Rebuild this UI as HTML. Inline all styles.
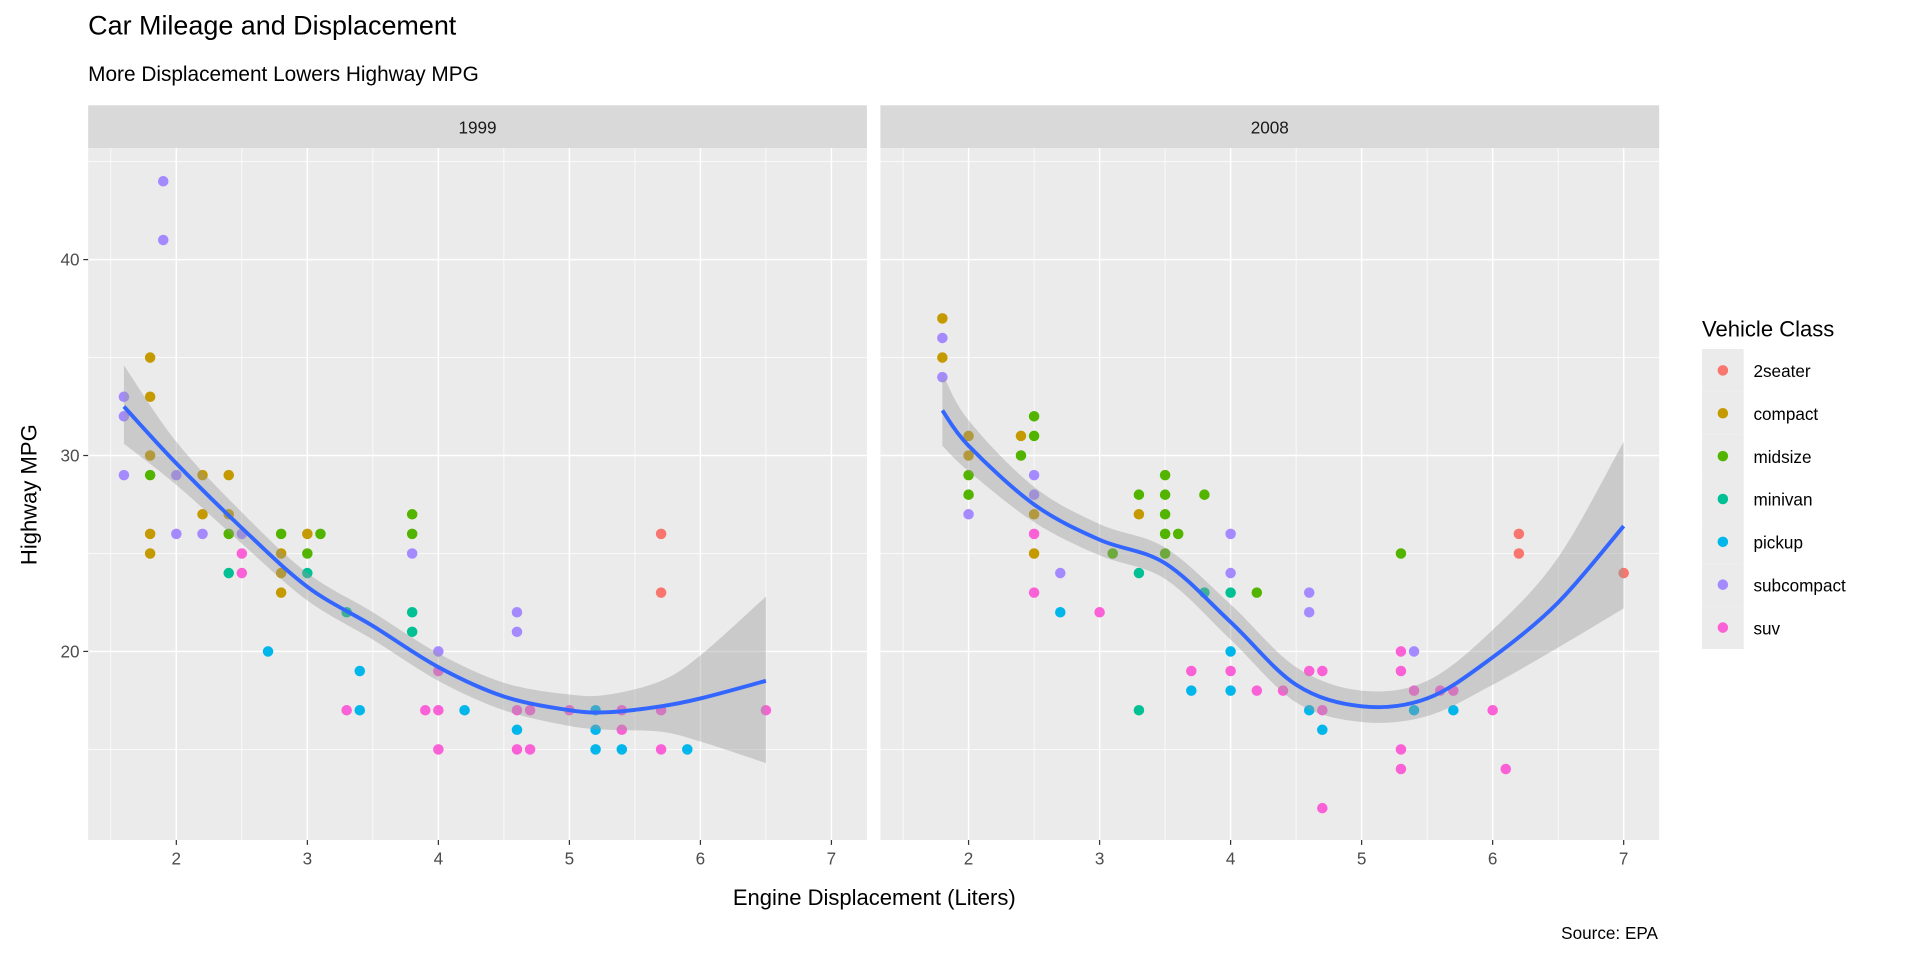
<!DOCTYPE html>
<html><head><meta charset="utf-8"><style>
html,body{margin:0;padding:0;background:#fff;}
svg{display:block;font-family:"Liberation Sans",Arial,sans-serif;}
</style></head><body>
<svg id="s" width="1920" height="960" viewBox="0 0 1568 784" xmlns="http://www.w3.org/2000/svg">
<rect width="1568" height="784" fill="#fff"/>
<text x="72" y="28" font-size="22" fill="#000">Car Mileage and Displacement</text>
<text x="72" y="66" font-size="17" fill="#000">More Displacement Lowers Highway MPG</text>
<g id="g"></g>
<text x="714" y="739" font-size="18" text-anchor="middle" fill="#000">Engine Displacement (Liters)</text>
<text transform="translate(30,404) rotate(-90)" font-size="18" text-anchor="middle" fill="#000">Highway MPG</text>
<text x="1354" y="767" font-size="14" text-anchor="end" fill="#000">Source: EPA</text>
<text x="1390" y="275" font-size="18" fill="#000">Vehicle Class</text>
<g id="leg"></g>
</svg>
<script>
const NS="http://www.w3.org/2000/svg";
const g=document.getElementById('g'),leg=document.getElementById('leg');
function el(t,a,p){const e=document.createElementNS(NS,t);for(const k in a)e.setAttribute(k,a[k]);(p||g).appendChild(e);return e;}
const C={t:'#F8766D',c:'#C49A00',m:'#53B400',v:'#00C094',p:'#00B6EB',s:'#A58AFF',u:'#FB61D7'};
const Y=h=>532-(h-20)*16;
const panels=[{x0:72,off:0,lab:'1999'},{x0:719,off:647,lab:'2008'}];
const d99=[[1.6,33,'s'],[1.6,32,'s'],[1.6,29,'s'],[1.8,35,'c'],[1.8,33,'c'],[1.8,30,'c'],[1.8,29,'m'],[1.8,26,'c'],[1.8,25,'c'],[1.9,44,'s'],[1.9,41,'s'],[2,29,'s'],[2,26,'s'],[2.2,29,'c'],[2.2,27,'c'],[2.2,26,'s'],[2.4,29,'c'],[2.4,27,'c'],[2.4,26,'m'],[2.4,24,'v'],[2.5,26,'s'],[2.5,25,'u'],[2.5,24,'u'],[2.7,20,'p'],[2.8,26,'m'],[2.8,25,'c'],[2.8,24,'c'],[2.8,23,'c'],[3,26,'c'],[3,25,'m'],[3,24,'v'],[3.1,26,'m'],[3.3,22,'v'],[3.3,17,'u'],[3.4,19,'p'],[3.4,17,'p'],[3.8,27,'m'],[3.8,26,'m'],[3.8,25,'s'],[3.8,22,'v'],[3.8,21,'v'],[3.9,17,'u'],[4,20,'s'],[4,19,'u'],[4,17,'u'],[4,15,'u'],[4.2,17,'p'],[4.6,22,'s'],[4.6,21,'s'],[4.6,17,'u'],[4.6,16,'p'],[4.6,15,'u'],[4.7,17,'u'],[4.7,15,'u'],[5,17,'u'],[5.2,17,'p'],[5.2,16,'p'],[5.2,15,'p'],[5.4,17,'u'],[5.4,16,'u'],[5.4,15,'p'],[5.7,26,'t'],[5.7,23,'t'],[5.7,17,'u'],[5.7,15,'u'],[5.9,15,'p'],[6.5,17,'u']];
const d08=[[1.8,37,'c'],[1.8,35,'c'],[1.8,36,'s'],[1.8,34,'s'],[2,31,'c'],[2,30,'c'],[2,29,'m'],[2,28,'m'],[2,27,'s'],[2.4,31,'c'],[2.4,30,'m'],[2.5,32,'m'],[2.5,31,'m'],[2.5,29,'s'],[2.5,28,'s'],[2.5,27,'c'],[2.5,26,'u'],[2.5,25,'c'],[2.5,23,'u'],[2.7,24,'s'],[2.7,22,'p'],[3,22,'u'],[3.1,25,'m'],[3.3,28,'m'],[3.3,27,'c'],[3.3,24,'v'],[3.3,17,'v'],[3.5,29,'m'],[3.5,28,'m'],[3.5,27,'m'],[3.5,26,'m'],[3.5,25,'m'],[3.6,26,'m'],[3.7,19,'u'],[3.7,18,'p'],[3.8,28,'m'],[3.8,23,'v'],[4,26,'s'],[4,24,'s'],[4,23,'v'],[4,20,'p'],[4,19,'u'],[4,18,'p'],[4.2,23,'m'],[4.2,18,'u'],[4.4,18,'u'],[4.6,23,'s'],[4.6,22,'s'],[4.6,19,'u'],[4.6,17,'p'],[4.7,19,'u'],[4.7,17,'u'],[4.7,16,'p'],[4.7,12,'u'],[5.3,25,'m'],[5.3,20,'u'],[5.3,19,'u'],[5.3,15,'u'],[5.3,14,'u'],[5.4,20,'s'],[5.4,18,'u'],[5.4,17,'p'],[5.6,18,'u'],[5.7,18,'u'],[5.7,17,'p'],[6,17,'u'],[6.1,14,'u'],[6.2,26,'t'],[6.2,25,'t'],[7,24,'t']];
const l99=[[1.6,32.5,30.6,34.6],[2,29.6,28.5,30.7],[2.5,26.3,25.5,27.1],[3,23.3,22.6,24.0],[3.5,21.3,20.6,22.0],[4,19.2,18.5,19.9],[4.5,17.7,17.0,18.4],[5,17.0,16.2,17.8],[5.3,16.9,16.0,17.8],[5.7,17.2,15.9,18.5],[6,17.6,15.4,19.8],[6.5,18.5,14.3,22.8]];
const l08=[[1.8,32.3,30.5,34.2],[2,30.5,29.2,31.8],[2.5,27.5,26.6,28.4],[3,25.7,24.9,26.5],[3.5,24.5,23.7,25.3],[4,21.5,20.6,22.4],[4.5,18.3,17.4,19.2],[5,17.2,16.4,18.0],[5.5,17.6,16.7,18.5],[6,19.7,18.3,21.1],[6.5,22.5,20.2,24.8],[7,26.4,22.2,30.7]];
const data=[d99,d08],lines=[l99,l08];
function smooth(pts){let s='M'+pts[0][0]+','+pts[0][1];for(let i=0;i<pts.length-1;i++){const p0=pts[i-1]||pts[i],p1=pts[i],p2=pts[i+1],p3=pts[i+2]||p2;s+=` C${p1[0]+(p2[0]-p0[0])/6},${p1[1]+(p2[1]-p0[1])/6} ${p2[0]-(p3[0]-p1[0])/6},${p2[1]-(p3[1]-p1[1])/6} ${p2[0]},${p2[1]}`;}return s;}
panels.forEach((P,i)=>{
 const X=v=>144+P.off+(v-2)*107;
 el('rect',{x:P.x0,y:86,width:636,height:35,fill:'#d9d9d9'});
 el('text',{x:P.x0+318,y:109,'font-size':14,'text-anchor':'middle',fill:'#1a1a1a'}).textContent=P.lab;
 el('rect',{x:P.x0,y:121,width:636,height:565,fill:'#ebebeb'});
 [15,25,35,45].forEach(h=>el('line',{x1:P.x0,x2:P.x0+636,y1:Y(h),y2:Y(h),stroke:'#fff','stroke-width':0.6}));
 [1.5,2.5,3.5,4.5,5.5,6.5].forEach(v=>el('line',{x1:X(v),x2:X(v),y1:121,y2:686,stroke:'#fff','stroke-width':0.6}));
 [20,30,40].forEach(h=>el('line',{x1:P.x0,x2:P.x0+636,y1:Y(h),y2:Y(h),stroke:'#fff','stroke-width':1.2}));
 [2,3,4,5,6,7].forEach(v=>{el('line',{x1:X(v),x2:X(v),y1:121,y2:686,stroke:'#fff','stroke-width':1.2});
  el('line',{x1:X(v),x2:X(v),y1:686,y2:690,stroke:'#333','stroke-width':1});
  el('text',{x:X(v),y:706,'font-size':14,'text-anchor':'middle',fill:'#4d4d4d'}).textContent=v;});
 data[i].forEach(d=>el('circle',{cx:X(d[0]),cy:Y(d[1]),r:4.3,fill:C[d[2]]}));
 const L=lines[i];
 const up=L.map(r=>[X(r[0]),Y(r[3])]),lo=L.map(r=>[X(r[0]),Y(r[2])]).reverse();
 let band=smooth(up)+' L'+lo[0][0]+','+lo[0][1]+smooth(lo).slice(smooth(lo).indexOf('C')-1)+'Z';
 el('path',{d:band,fill:'#999','fill-opacity':0.4});
 el('path',{d:smooth(L.map(r=>[X(r[0]),Y(r[1])])),fill:'none',stroke:'#3366FF','stroke-width':3.2});
});
[20,30,40].forEach(h=>{el('line',{x1:68,x2:72,y1:Y(h),y2:Y(h),stroke:'#333'});
 el('text',{x:65,y:Y(h)+5,'font-size':14,'text-anchor':'end',fill:'#4d4d4d'}).textContent=h;});
const names=[['t','2seater'],['c','compact'],['m','midsize'],['v','minivan'],['p','pickup'],['s','subcompact'],['u','suv']];
names.forEach((n,k)=>{const y=285+k*35;
 el('rect',{x:1390,y:y,width:34,height:35,fill:'#ebebeb'},leg);
 el('circle',{cx:1407,cy:y+17.5,r:4.3,fill:C[n[0]]},leg);
 el('text',{x:1432,y:y+23,'font-size':14,fill:'#000'},leg).textContent=n[1];});
</script>
</body></html>
